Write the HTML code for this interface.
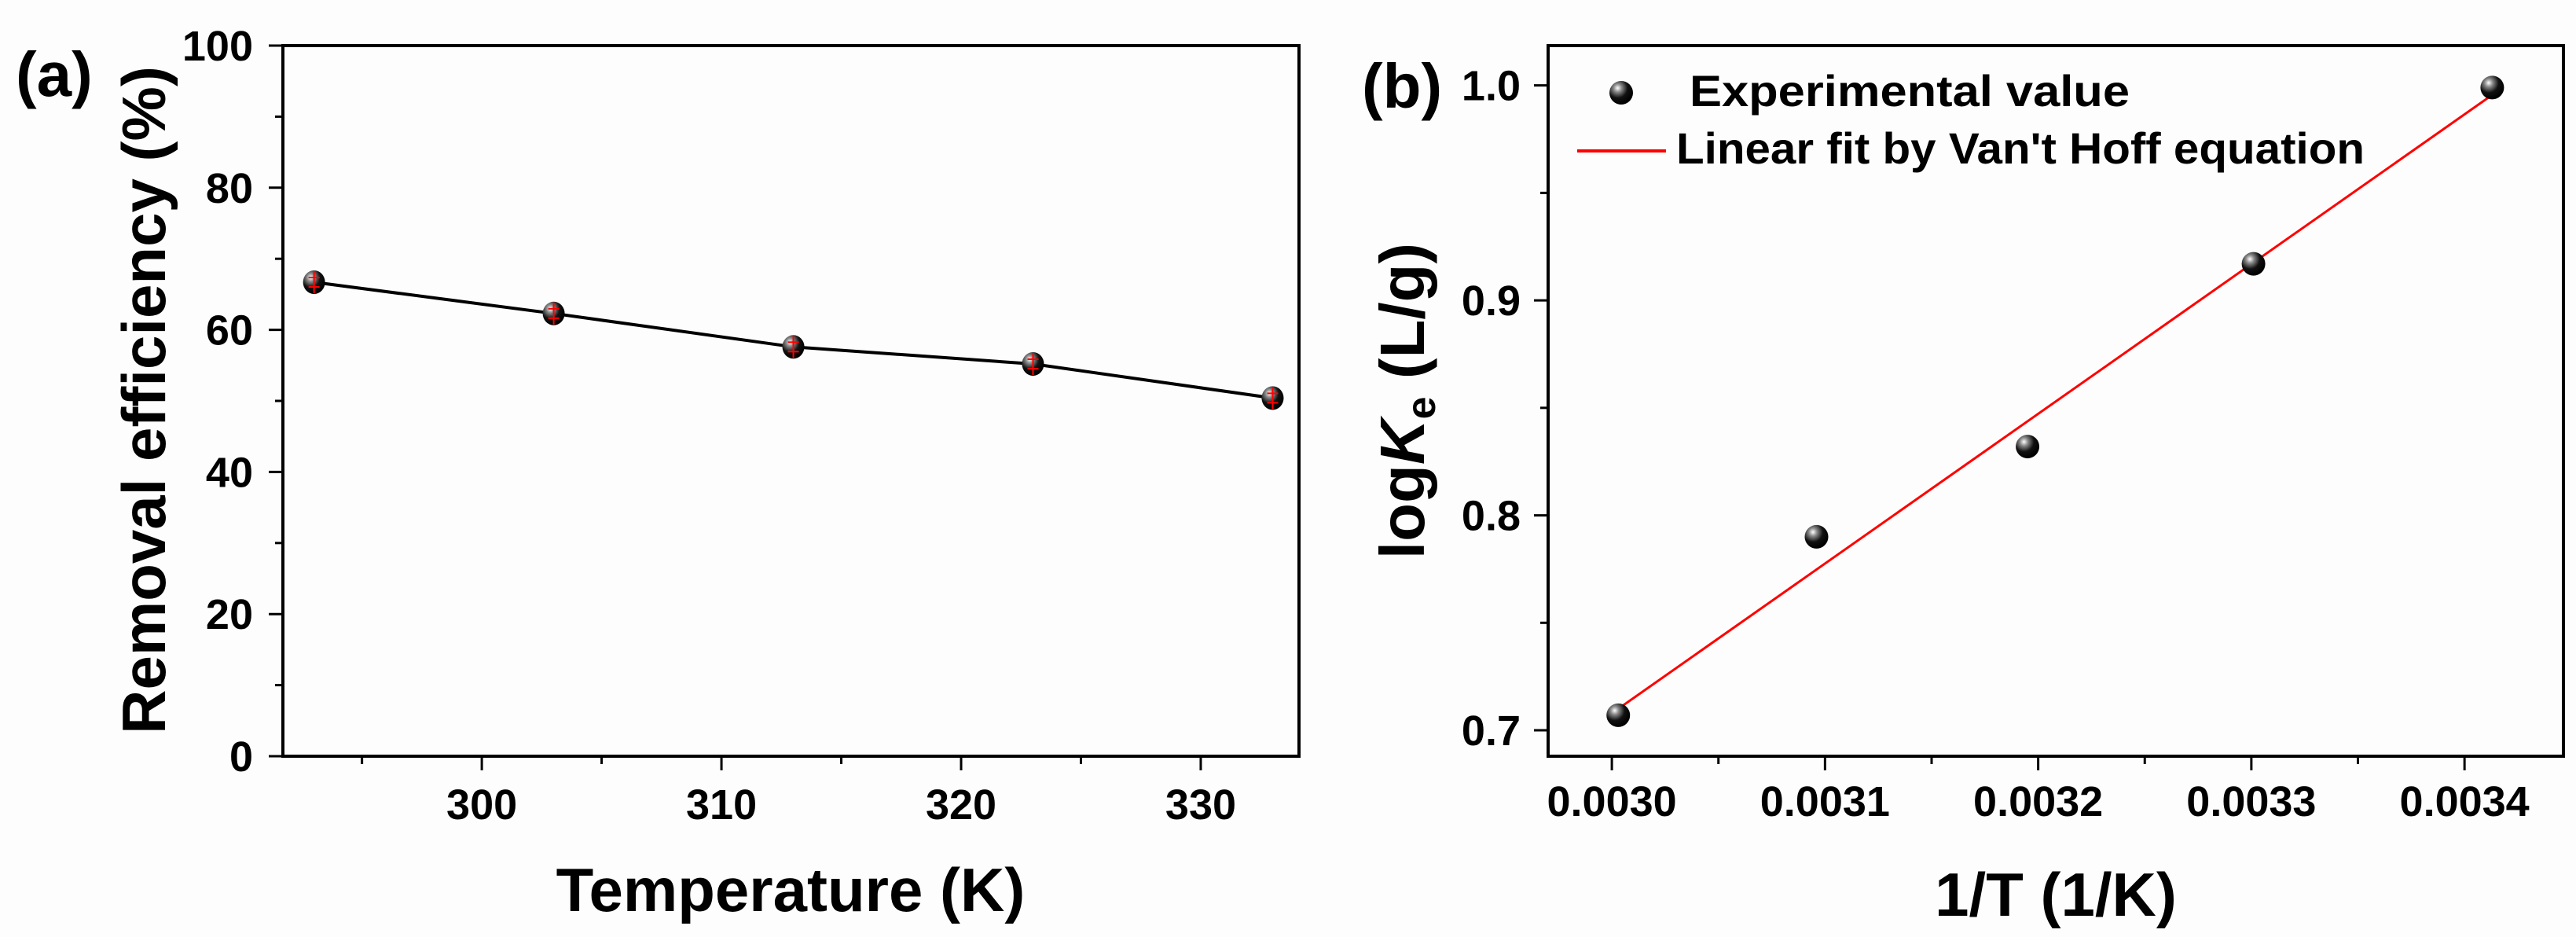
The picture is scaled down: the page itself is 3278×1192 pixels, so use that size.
<!DOCTYPE html>
<html><head><meta charset="utf-8"><style>
html,body{margin:0;padding:0;background:#fdfdfd;}
svg{display:block;font-family:"Liberation Sans",Arial,sans-serif;font-weight:bold;}
</style></head><body>
<svg id="chart" width="3278" height="1192" viewBox="0 0 3278 1192" xmlns="http://www.w3.org/2000/svg">
<defs>
<radialGradient id="sph" cx="0.35" cy="0.3" r="0.7">
<stop offset="0" stop-color="#ffffff"/><stop offset="0.25" stop-color="#888"/><stop offset="0.6" stop-color="#111"/><stop offset="1" stop-color="#000"/>
</radialGradient>
</defs>
<g id="panelA"></g>
<g id="panelB"></g>
</svg>
<script>
// Panel (a) data
const tempsA = [293, 303, 313, 323, 333];
const removalA = [66.7, 62.3, 57.6, 55.2, 50.4];
const xTicksA = [300, 310, 320, 330];
const yTicksA = [0, 20, 40, 60, 80, 100];
// Panel (b) data
const invT = [0.003003, 0.003096, 0.003195, 0.003301, 0.003413];
const logKe = [0.707, 0.790, 0.832, 0.917, 0.999];
const fitX = [0.003003, 0.003413];
const fitY = [0.710, 0.9956];
const xTicksB = [0.0030, 0.0031, 0.0032, 0.0033, 0.0034];
const xTickLabelsB = ["0.0030", "0.0031", "0.0032", "0.0033", "0.0034"];
const yTicksB = [0.7, 0.8, 0.9, 1.0];
const yTickLabelsB = ["0.7", "0.8", "0.9", "1.0"];

const NS = "http://www.w3.org/2000/svg";
function mk(parent, tag, attrs, text){
  const e = document.createElementNS(NS, tag);
  for (const k in attrs) e.setAttribute(k, attrs[k]);
  if (text !== undefined) e.textContent = text;
  parent.appendChild(e);
  return e;
}

// ---------- Panel A ----------
(function(){
  const g = document.getElementById('panelA');
  const L=360, R=1653, T=58, B=962;
  const x0=291.7, x1=334.1, y0=0, y1=100;
  const sx = v => L + (v-x0)/(x1-x0)*(R-L);
  const sy = v => B - (v-y0)/(y1-y0)*(B-T);
  let e;
  e = mk(g,'rect',{x:L,y:T,width:R-L,height:B-T,fill:'none',stroke:'#000','stroke-width':4});
   
  // x ticks
  for (let v=295; v<=330; v+=5){
    const major = v%10===0;
    e = mk(g,'line',{x1:sx(v),x2:sx(v),y1:B,y2:B+(major?18:10),stroke:'#000','stroke-width':3});
     
  }
  xTicksA.forEach(v=>{
    e = mk(g,'text',{x:sx(v),y:1042,'font-size':54,'text-anchor':'middle'},String(v));
     
  });
  for (let v=0; v<=100; v+=10){
    const major = v%20===0;
    e = mk(g,'line',{x1:L,x2:L-(major?18:10),y1:sy(v),y2:sy(v),stroke:'#000','stroke-width':3});
     
  }
  yTicksA.forEach(v=>{
    e = mk(g,'text',{x:322,y:sy(v)+19,'font-size':54,'text-anchor':'end'},String(v));
     
  });
  // line
  const pts = tempsA.map((t,i)=>sx(t)+','+sy(removalA[i])).join(' ');
  e = mk(g,'polyline',{points:pts,fill:'none',stroke:'#000','stroke-width':4});
   
  tempsA.forEach((t,i)=>{
    const cx=sx(t), cy=sy(removalA[i]);
    const p = mk(g,'g',{});
     
    mk(p,'ellipse',{cx:cx,cy:cy,rx:14,ry:15,fill:'url(#sph)'});
    mk(p,'line',{x1:cx,x2:cx,y1:cy-14,y2:cy+14,stroke:'#f00','stroke-width':2});
    mk(p,'line',{x1:cx-7,x2:cx+7,y1:cy-6,y2:cy-6,stroke:'#f00','stroke-width':2});
    mk(p,'line',{x1:cx-7,x2:cx+7,y1:cy+6,y2:cy+6,stroke:'#f00','stroke-width':2});
  });
  e = mk(g,'text',{x:1006,y:1159,'font-size':78,'text-anchor':'middle'},'Temperature (K)');
   
  e = mk(g,'text',{x:0,y:0,'font-size':78,'text-anchor':'middle',transform:'translate(210,509) rotate(-90)'},'Removal efficiency (%)');
   
  e = mk(g,'text',{x:20,y:122,'font-size':80},'(a)');
   
})();

// ---------- Panel B ----------
(function(){
  const g = document.getElementById('panelB');
  const L=1970, R=3262, T=58, B=962;
  const x0=0.0029701, x1=0.0034464, y0=0.68794, y1=1.01853;
  const sx = v => L + (v-x0)/(x1-x0)*(R-L);
  const sy = v => B - (v-y0)/(y1-y0)*(B-T);
  let e;
  e = mk(g,'rect',{x:L,y:T,width:R-L,height:B-T,fill:'none',stroke:'#000','stroke-width':4});
   
  for (let k=0;k<=9;k++){
    const v=0.0030+k*0.00005; if (v>x1) break;
    const major = k%2===0;
    e = mk(g,'line',{x1:sx(v),x2:sx(v),y1:B,y2:B+(major?18:10),stroke:'#000','stroke-width':3});
     
  }
  xTicksB.forEach((v,i)=>{
    e = mk(g,'text',{x:sx(v),y:1038,'font-size':54,'text-anchor':'middle'},xTickLabelsB[i]);
     
  });
  for (let k=0;k<=6;k++){
    const v=0.7+k*0.05;
    const major = k%2===0;
    e = mk(g,'line',{x1:L,x2:L-(major?18:10),y1:sy(v),y2:sy(v),stroke:'#000','stroke-width':3});
     
  }
  yTicksB.forEach((v,i)=>{
    e = mk(g,'text',{x:1935,y:sy(v)+19,'font-size':54,'text-anchor':'end'},yTickLabelsB[i]);
     
  });
  e = mk(g,'line',{x1:sx(fitX[0]),y1:sy(fitY[0]),x2:sx(fitX[1]),y2:sy(fitY[1]),stroke:'#f00','stroke-width':3});
   
  invT.forEach((v,i)=>{
    e = mk(g,'circle',{cx:sx(v),cy:sy(logKe[i]),r:15,fill:'url(#sph)'});
     
  });
  // legend
  const lg = mk(g,'g',{});
   
  e = mk(lg,'circle',{cx:2063,cy:118,r:15,fill:'url(#sph)'});
   
  e = mk(lg,'text',{x:2150,y:135,'font-size':56,textLength:560,lengthAdjust:'spacingAndGlyphs'},'Experimental value');
   
  e = mk(lg,'line',{x1:2007,x2:2120,y1:192,y2:192,stroke:'#f00','stroke-width':4});
   
  e = mk(lg,'text',{x:2133,y:208,'font-size':56,textLength:876,lengthAdjust:'spacingAndGlyphs'},"Linear fit by Van't Hoff equation");
   
  // titles
  e = mk(g,'text',{x:2616,y:1165,'font-size':78,'text-anchor':'middle'},'1/T (1/K)');
   
  const yt = mk(g,'text',{x:0,y:0,'font-size':80,'text-anchor':'middle',transform:'translate(1812,510) rotate(-90)'});
   
  mk(yt,'tspan',{},'log');
  mk(yt,'tspan',{'font-style':'italic'},'K');
  mk(yt,'tspan',{'font-size':52,dy:14},'e');
  mk(yt,'tspan',{dy:-14},' (L/g)');
  e = mk(g,'text',{x:1733,y:137,'font-size':80},'(b)');
   
})();
</script>
</body></html>
